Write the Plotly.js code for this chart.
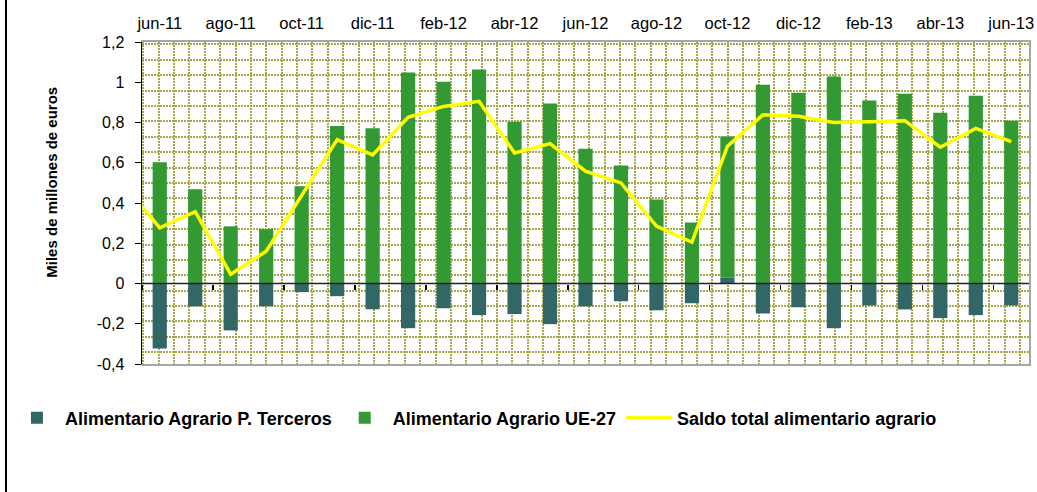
<!DOCTYPE html>
<html>
<head>
<meta charset="utf-8">
<script src="https://cdn.plot.ly/plotly-3.0.1.min.js"></script>
<style>
  html, body { margin: 0; padding: 0; background: #ffffff; }
  #wrap { position: relative; width: 1037px; height: 492px; overflow: hidden; }
  #chart { width: 1037px; height: 492px; }
  #edge { position: absolute; left: 5px; top: 0; width: 2px; height: 492px; background: #000000; }
</style>
</head>
<body>
<div id="wrap">
  <div id="chart"></div>
  <div id="edge"></div>
</div>
<script>
// Bar categories (months)
const months = ['jun-11','jul-11','ago-11','sep-11','oct-11','nov-11','dic-11','ene-12','feb-12','mar-12','abr-12','may-12',
                'jun-12','jul-12','ago-12','sep-12','oct-12','nov-12','dic-12','ene-13','feb-13','mar-13','abr-13','may-13','jun-13'];
// Line categories (includes previous month, clipped at the plot edge)
const lineMonths = ['may-11','jun-11','jul-11','ago-11','sep-11','oct-11','nov-11','dic-11','ene-12','feb-12','mar-12','abr-12','may-12',
                'jun-12','jul-12','ago-12','sep-12','oct-12','nov-12','dic-12','ene-13','feb-13','mar-13','abr-13','may-13','jun-13'];

// Alimentario Agrario P. Terceros
const terceros = [-0.323,-0.113,-0.233,-0.113,-0.043,-0.063,-0.128,-0.222,-0.123,-0.157,-0.152,-0.202,
                  -0.113,-0.088,-0.133,-0.098,0.028,-0.149,-0.118,-0.222,-0.109,-0.129,-0.172,-0.157,-0.109];
// Alimentario Agrario UE-27
const ue27 = [0.603,0.468,0.284,0.270,0.483,0.782,0.772,1.048,1.003,1.063,0.804,0.894,
              0.670,0.586,0.417,0.303,0.702,0.988,0.948,1.028,0.909,0.943,0.849,0.933,0.809];
// Saldo total alimentario agrario
const saldo = [0.49,0.276,0.357,0.046,0.160,0.440,0.715,0.639,0.826,0.880,0.905,0.649,0.695,
               0.558,0.500,0.285,0.205,0.682,0.838,0.831,0.800,0.804,0.809,0.677,0.771,0.705];

// Tick labels
const xTickLabels = ['jun-11','ago-11','oct-11','dic-11','feb-12','abr-12','jun-12','ago-12','oct-12','dic-12','feb-13','abr-13','jun-13'];
const yTickVals = [-0.4,-0.2,0,0.2,0.4,0.6,0.8,1,1.2];
const yTickText = ['-0,4','-0,2','0','0,2','0,4','0,6','0,8','1','1,2'];

const seriesNames = ['Alimentario Agrario P. Terceros','Alimentario Agrario UE-27','Saldo total alimentario agrario'];
const yTitle = 'Miles de millones de euros';

const FONT = 'Liberation Sans, Arial, Helvetica, sans-serif';
const GRID = '#a8a84a';

const data = [
  // helper traces (empty) so that the pattern-grid and zero-axis overlays exist
  {type:'scatter', x:[], y:[], xaxis:'x2', yaxis:'y2', showlegend:false, hoverinfo:'skip'},
  {type:'scatter', x:[], y:[], xaxis:'x3', yaxis:'y', showlegend:false, hoverinfo:'skip'},
  {type:'bar', name: seriesNames[0], x: months, y: terceros,
   marker:{color:'#336666', line:{width:0}}},
  {type:'bar', name: seriesNames[1], x: months, y: ue27,
   marker:{color:'#339933', line:{width:0}}},
  {type:'scatter', mode:'lines', name: seriesNames[2], x: lineMonths, y: saldo,
   line:{color:'#ffff00', width:3.5}}
];

const layout = {
  width: 1037, height: 492,
  margin: {l:142, r:8, t:42, b:128, pad:0},
  paper_bgcolor:'#ffffff', plot_bgcolor:'#ffffff',
  font: {family: FONT, color:'#000000', size:16},
  barmode: 'relative',
  bargap: 0.6,
  hovermode: false,
  xaxis: {
    type:'category', categoryorder:'array', categoryarray: lineMonths,
    range:[0.5, 25.5], side:'top', automargin:false,
    tickvals: xTickLabels, ticktext: xTickLabels,
    ticks:'outside', ticklen:4, tickcolor:'rgba(0,0,0,0)',
    tickfont:{size:16.5, family:FONT, color:'#000'},
    showgrid:false, zeroline:false,
    showline:true, linecolor:'#a6a6a6', linewidth:2, mirror:true
  },
  yaxis: {
    range:[-0.4, 1.2], automargin:false,
    tickvals: yTickVals, ticktext: yTickText,
    ticks:'outside', ticklen:6, tickwidth:1, tickcolor:'#000',
    ticklabelstandoff: 7,
    tickfont:{size:16, family:FONT, color:'#000'},
    showgrid:false, zeroline:false,
    showline:true, linecolor:'#000000', linewidth:1.5
  },
  xaxis2: {
    overlaying:'x', anchor:'y2', range:[0, 887], side:'bottom',
    tick0:1.3, dtick:15.38, showgrid:true, gridcolor:GRID, gridwidth:2, griddash:'2px,1px',
    showticklabels:false, ticks:'', zeroline:false, showline:false, fixedrange:true
  },
  yaxis2: {
    overlaying:'y', anchor:'x2', side:'right', range:[0, 321.5],
    tick0:11.7, dtick:15.37, showgrid:true, gridcolor:GRID, gridwidth:2, griddash:'2px,1px',
    showticklabels:false, ticks:'', zeroline:false,
    showline:true, linecolor:'#a6a6a6', linewidth:2, fixedrange:true
  },
  xaxis3: {
    overlaying:'x', anchor:'free', position:0.25, side:'bottom', type:'linear',
    range:[0.5, 25.5], tick0:0.5, dtick:2,
    ticks:'outside', ticklen:5, tickwidth:1.5, tickcolor:'#000',
    showticklabels:false, showgrid:false, zeroline:false, showline:false
  },
  shapes: [{
    type:'line', xref:'x domain', x0:0, x1:1, yref:'y', y0:0, y1:0,
    line:{color:'#222222', width:1.5}, layer:'above'
  }],
  showlegend: true,
  legend: {
    orientation:'h', x:-0.15, xanchor:'left', y:-0.168, yanchor:'middle',
    font:{family:FONT, size:18, weight:'bold', color:'#000'},
    bgcolor:'rgba(0,0,0,0)', traceorder:'normal', itemwidth:46
  },
  annotations: [{
    text: yTitle, xref:'paper', yref:'paper', x:-0.1015, y:0.566,
    xanchor:'center', yanchor:'middle', textangle:-90, showarrow:false,
    font:{family:FONT, size:15, weight:'bold', color:'#000'}
  }]
};

Plotly.newPlot('chart', data, layout, {displayModeBar:false, staticPlot:true});
</script>
</body>
</html>
